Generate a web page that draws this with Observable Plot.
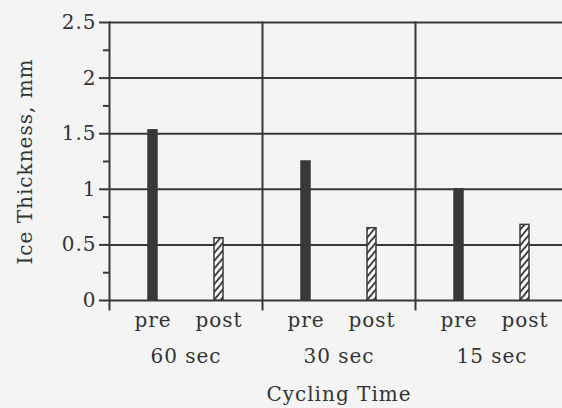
<!DOCTYPE html>
<html><head><meta charset="utf-8">
<script src="https://cdn.jsdelivr.net/npm/d3@7"></script>
<script src="https://cdn.jsdelivr.net/npm/@observablehq/plot@0.6"></script>
<style>
html,body{margin:0;padding:0;background:#f4f4f4;overflow:hidden;}
</style></head><body>
<svg width="0" height="0" style="position:absolute">
<defs><pattern id="hatch" patternUnits="userSpaceOnUse" width="5" height="5" patternTransform="rotate(40)">
<rect width="5" height="5" fill="#ffffff"/><line x1="1" y1="0" x2="1" y2="5" stroke="#444" stroke-width="2"/></pattern></defs></svg>
<div id="chart"></div>
<script>
const groups = ["60 sec", "30 sec", "15 sec"];
const phases = ["pre", "post"];
const preValues = [1.53, 1.25, 1.0];
const postValues = [0.56, 0.65, 0.68];
const yTicks = [0, 0.5, 1, 1.5, 2, 2.5];
const yTickLabels = ["0", "0.5", "1", "1.5", "2", "2.5"];
const yMinorTicks = [0.25, 0.75, 1.25, 1.75, 2.25];
const yLabel = "Ice Thickness, mm";
const xLabel = "Cycling Time";

const table = groups.flatMap((g, i) => [
  {group: g, phase: "pre", value: preValues[i]},
  {group: g, phase: "post", value: postValues[i]}
]);
const ink = "#383838";
const chart = Plot.plot({
  width: 568, height: 408,
  marginLeft: 108, marginRight: 0, marginTop: 22, marginBottom: 108,
  style: "max-width:none;background:#f4f4f4;font-family:'DejaVu Serif';font-size:20px;letter-spacing:1px;color:#333;overflow:hidden",
  fx: {domain: groups, padding: 0},
  x: {domain: phases, paddingInner: 0.866, paddingOuter: 0.578, align: 0.5},
  y: {domain: [0, 2.5]},
  color: {domain: phases, range: [ink, "url(#hatch)"]},
  marks: [
    Plot.ruleY(yTicks, {stroke: ink, strokeWidth: 2}),
    Plot.frame({anchor: "left", insetBottom: -9, stroke: ink, strokeWidth: 2}),
    Plot.axisY({ticks: yTicks, tickFormat: (d) => yTickLabels[yTicks.indexOf(d)], tickSize: 10, tickPadding: 3, stroke: ink, strokeWidth: 2, fill: "#333", label: yLabel, labelArrow: "none", labelAnchor: "center", labelOffset: 92}),
    Plot.axisY({ticks: yMinorTicks, tickSize: 6, tickFormat: () => "", stroke: ink, strokeWidth: 2, label: null}),
    Plot.axisX({tickSize: 0, tickPadding: 12, fill: "#333", label: null}),
    Plot.axisFx({anchor: "bottom", tickSize: 0, tickPadding: 48, fill: "#333", label: xLabel, labelArrow: "none", labelAnchor: "center", labelOffset: 100}),
    Plot.barY(table, {fx: "group", x: "phase", y: "value", fill: "phase", stroke: ink, strokeWidth: 1.5})
  ]
});
document.getElementById("chart").appendChild(chart);
</script>
</body></html>
